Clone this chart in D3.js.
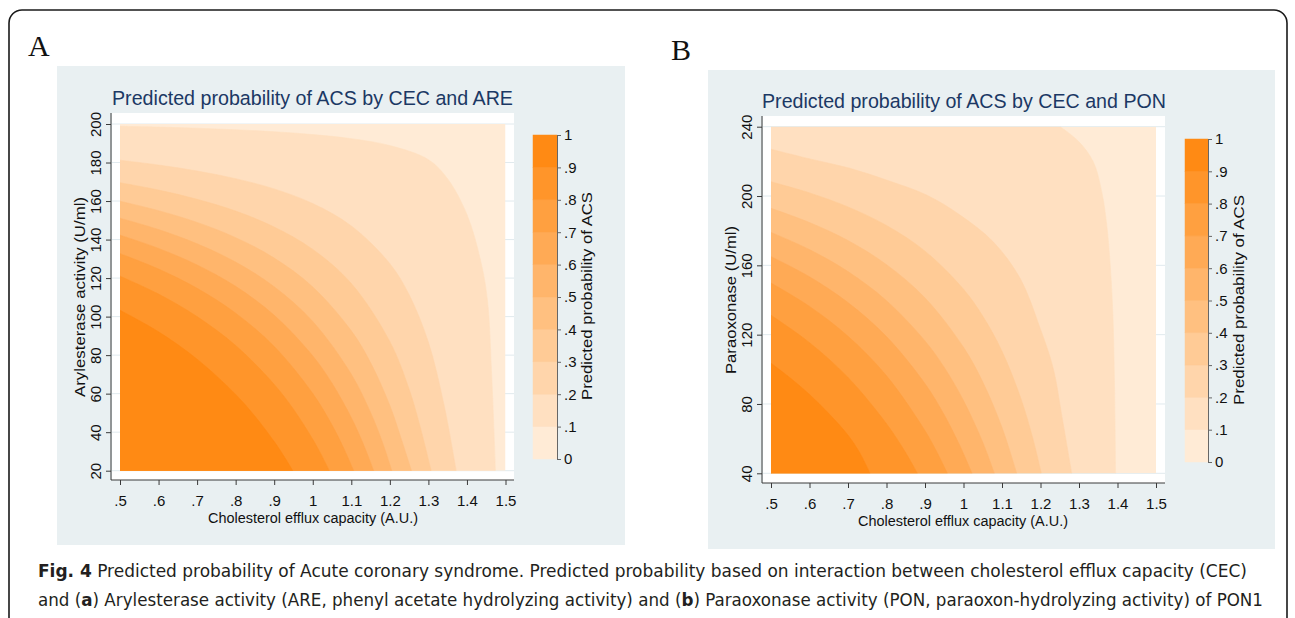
<!DOCTYPE html>
<html><head><meta charset="utf-8">
<script src="https://cdn.jsdelivr.net/npm/d3@7"></script>
<style>body{margin:0;background:#fff;} svg{display:block;}</style>
</head><body>
<svg id="c" width="1295" height="618"></svg>
<script>
// ---------------- DATA ----------------
const probLevels = [0.1,0.2,0.3,0.4,0.5,0.6,0.7,0.8,0.9];
const bandColors = ["#FFEBD6","#FFE0C1","#FFD5AB","#FFCB96","#FFC080","#FFB56B","#FFAA55","#FFA040","#FF952A","#FF8A14"];
const cecTicks = [0.5,0.6,0.7,0.8,0.9,1.0,1.1,1.2,1.3,1.4,1.5];
const cecTickLabels = [".5",".6",".7",".8",".9","1","1.1","1.2","1.3","1.4","1.5"];
const areTicks = [20,40,60,80,100,120,140,160,180,200];
const ponTicks = [40,80,120,160,200,240];
const probTicks = [0,0.1,0.2,0.3,0.4,0.5,0.6,0.7,0.8,0.9,1];
const probTickLabels = ["0",".1",".2",".3",".4",".5",".6",".7",".8",".9","1"];

// Panel A: contour boundaries (CEC, ARE) for probability levels .1 ... .9
const areContourCEC = [
  [0.5,0.6,0.7,0.8,0.9,1.0,1.1,1.2,1.3,1.35,1.4,1.435,1.453,1.464,1.474],
  [0.5,0.6,0.7,0.8,0.9,1.0,1.1,1.2,1.25,1.3,1.34,1.372],
  [0.5,0.6,0.7,0.8,0.9,1.0,1.1,1.2,1.25,1.28,1.307],
  [0.5,0.6,0.7,0.8,0.9,1.0,1.1,1.15,1.2,1.23,1.256],
  [0.5,0.6,0.7,0.8,0.9,1.0,1.1,1.15,1.18,1.205],
  [0.5,0.6,0.7,0.8,0.9,1.0,1.05,1.1,1.13,1.158],
  [0.5,0.6,0.7,0.8,0.9,1.0,1.05,1.08,1.106],
  [0.5,0.6,0.7,0.8,0.9,0.95,1.0,1.02,1.043],
  [0.5,0.6,0.7,0.8,0.85,0.9,0.925,0.948]
];
const areContourARE = [
  [198.8,198.4,197.8,197.0,196.0,194.5,192.4,188.8,181.5,171.5,153.0,129.4,108.6,70,20],
  [181.2,178.7,175.6,171.6,166.3,158.7,147.1,127.5,111.4,86.7,54.6,20],
  [169.5,165.7,160.9,154.8,146.5,134.9,117.2,87.0,62.3,41.7,20],
  [159.9,155.0,148.9,141.0,130.4,115.4,92.6,76.1,53.8,36.2,20],
  [151.1,145.2,137.8,128.3,115.5,97.5,70.1,50.2,35.2,20],
  [142.3,135.4,126.8,115.7,100.7,79.6,65.4,47.5,34.4,20],
  [132.7,124.7,114.7,101.8,84.5,60.1,43.7,31.8,20],
  [121.0,111.7,100.0,85.0,64.8,51.9,36.3,29.1,20],
  [103.3,92.1,77.9,59.6,48.3,35.1,27.6,20]
];

// Panel B: contour boundaries (CEC, PON) for probability levels .1 ... .9
const ponContourCEC = [
  [1.251,1.298,1.337,1.359,1.372,1.381,1.388,1.392,1.395],
  [0.5,0.601,0.705,0.8,0.904,0.991,1.077,1.147,1.199,1.233,1.255,1.281],
  [0.5,0.6,0.7,0.8,0.9,1.0,1.05,1.1,1.15,1.18,1.202],
  [0.5,0.6,0.7,0.8,0.9,1.0,1.05,1.1,1.138],
  [0.5,0.6,0.7,0.8,0.9,0.95,1.0,1.05,1.08],
  [0.5,0.6,0.7,0.8,0.9,0.95,0.99,1.022],
  [0.5,0.6,0.7,0.8,0.9,0.93,0.958],
  [0.5,0.6,0.7,0.8,0.85,0.88],
  [0.5,0.55,0.6,0.65,0.7,0.73,0.757]
];
const ponContourPON = [
  [240,231.7,219.8,202.5,183.3,160.2,131.3,92.9,40],
  [227,221.4,216,209.2,200.6,189,173.6,152.5,123.7,100.6,73.6,40],
  [208.2,201.8,193.7,183.0,168.2,146.2,130.7,110.4,82.5,60.1,40],
  [192.9,184.7,174.3,160.4,141.2,112.7,92.7,66.4,40],
  [179.0,169.1,156.4,139.6,116.4,101.1,82.0,57.9,40],
  [165.0,153.4,138.5,118.9,91.7,73.7,56.2,40],
  [149.8,136.3,119.1,96.3,64.6,52.6,40],
  [131.2,115.4,95.3,68.6,51.8,40],
  [103.5,95.0,85.5,74.5,62.0,52.0,40]
];

// ---------------- DRAWING ----------------
const svg = d3.select("#c");
const BG = "#e9f0f2";
const GRID = "#e1eaee";
const AXIS = "#3a3a3a";
const TITLE = "#1b3864";
const SANS = "'Liberation Sans', Arial, Helvetica, sans-serif";

svg.append("rect").attr("width",1295).attr("height",618).attr("fill","#fff");
// outer rounded frame
svg.append("rect").attr("x",9).attr("y",10).attr("width",1278).attr("height",660)
  .attr("rx",13).attr("fill","none").attr("stroke","#1a1a1a").attr("stroke-width",1.6);

function drawPanel(p) {
  const g = svg.append("g");
  g.append("text").attr("x",p.letter[0]).attr("y",p.letter[1])
    .attr("font-family","'Liberation Serif', 'Times New Roman', serif").attr("font-size",30)
    .attr("fill","#111").text(p.letterText);
  g.append("rect").attr("x",p.bg[0]).attr("y",p.bg[1]).attr("width",p.bg[2]-p.bg[0])
    .attr("height",p.bg[3]-p.bg[1]).attr("fill",BG);
  g.append("rect").attr("x",p.plot[0]).attr("y",p.plot[1]).attr("width",p.plot[2]-p.plot[0])
    .attr("height",p.plot[3]-p.plot[1]).attr("fill","#fff");

  const x = d3.scaleLinear().domain([0.5,1.5]).range(p.xr);
  const y = d3.scaleLinear().domain(p.yDomain).range(p.yr);
  const yMin = p.yDomain[0], yMax = p.yDomain[1];

  // gridlines
  g.selectAll("line.grid").data(p.yTicks).join("line")
    .attr("x1",p.plot[0]).attr("x2",p.plot[2])
    .attr("y1",d=>y(d)).attr("y2",d=>y(d))
    .attr("stroke",GRID).attr("stroke-width",1);

  const clipId = "clip"+p.letterText;
  g.append("clipPath").attr("id",clipId).append("rect")
    .attr("x",x(0.5)).attr("y",y(yMax)).attr("width",x(1.5)-x(0.5)).attr("height",y(yMin)-y(yMax));
  const fg = g.append("g").attr("clip-path","url(#"+clipId+")");
  fg.append("rect").attr("x",x(0.5)).attr("y",y(yMax)).attr("width",x(1.5)-x(0.5))
    .attr("height",y(yMin)-y(yMax)).attr("fill",bandColors[0]);
  const line = d3.line().curve(d3.curveCatmullRom.alpha(0.5));
  probLevels.forEach((lv,i)=>{
    const pts = p.cx[i].map((c,j)=>[x(c), y(p.cy[i][j])]);
    let d = line(pts) + "L" + x(0.5) + "," + y(yMin);
    if (p.cx[i][0] > 0.5) d += "L" + x(0.5) + "," + y(yMax);
    d += "Z";
    fg.append("path").attr("d",d).attr("fill",bandColors[i+1])
      .attr("stroke",bandColors[i+1]).attr("stroke-width",0.6);
  });

  // axis lines
  g.append("line").attr("x1",p.axX).attr("x2",p.axX).attr("y1",p.plot[1]).attr("y2",p.axY)
    .attr("stroke",AXIS).attr("stroke-width",1);
  g.append("line").attr("x1",p.axX).attr("x2",p.plot[2]).attr("y1",p.axY).attr("y2",p.axY)
    .attr("stroke",AXIS).attr("stroke-width",1);

  // x axis
  const xa = g.append("g").attr("transform","translate(0,"+p.axY+")")
    .call(d3.axisBottom(x).tickValues(cecTicks).tickFormat((d,i)=>cecTickLabels[i])
      .tickSize(5).tickSizeOuter(0).tickPadding(10));
  xa.select(".domain").remove();
  xa.selectAll("line").attr("stroke",AXIS);
  xa.selectAll("text").attr("font-family",SANS).attr("font-size",15).attr("fill","#111");

  // y axis
  const ya = g.append("g").attr("transform","translate("+p.axX+",0)")
    .call(d3.axisLeft(y).tickValues(p.yTicks).tickSize(5).tickSizeOuter(0));
  ya.select(".domain").remove();
  ya.selectAll("line").attr("stroke",AXIS);
  ya.selectAll("text").attr("font-family",SANS).attr("font-size",15).attr("fill","#111")
    .attr("transform","rotate(-90)").attr("x",0).attr("y",-10).attr("dy",0)
    .attr("text-anchor","middle");

  // title
  g.append("text").attr("x",p.title[0]).attr("y",p.title[1]).attr("font-family",SANS)
    .attr("font-size",20.5).attr("fill",TITLE).attr("textLength",p.title[2])
    .attr("lengthAdjust","spacingAndGlyphs").text(p.titleText);
  // x title
  g.append("text").attr("x",p.xTitle[0]).attr("y",p.xTitle[1]).attr("font-family",SANS)
    .attr("font-size",15.5).attr("fill","#111").attr("text-anchor","middle")
    .attr("textLength",p.xTitle[2]).attr("lengthAdjust","spacingAndGlyphs")
    .text("Cholesterol efflux capacity (A.U.)");
  // y title
  g.append("text").attr("transform","translate("+p.yTitle[0]+","+p.yTitle[1]+") rotate(-90)")
    .attr("font-family",SANS).attr("font-size",14.5).attr("fill","#111").attr("text-anchor","middle")
    .attr("textLength",p.yTitle[2]).attr("lengthAdjust","spacingAndGlyphs").text(p.yTitleText);

  // colorbar
  const cb = d3.scaleLinear().domain([0,1]).range([p.cb[3],p.cb[1]]);
  g.selectAll("rect.band").data(d3.range(10)).join("rect")
    .attr("x",p.cb[0]).attr("width",p.cb[2]-p.cb[0])
    .attr("y",i=>cb(probTicks[i+1])).attr("height",i=>cb(probTicks[i])-cb(probTicks[i+1]))
    .attr("fill",i=>bandColors[i]).attr("stroke",i=>bandColors[i]).attr("stroke-width",0.5);
  const ca = g.append("g").attr("transform","translate("+p.cb[2]+",0)")
    .call(d3.axisRight(cb).tickValues(probTicks).tickFormat((d,i)=>probTickLabels[i])
      .tickSize(4).tickSizeOuter(0).tickPadding(3));
  ca.select(".domain").attr("stroke","#666");
  ca.selectAll("line").attr("stroke","#666");
  ca.selectAll("text").attr("font-family",SANS).attr("font-size",15).attr("fill","#111");
  g.append("text").attr("transform","translate("+p.cbTitle[0]+","+p.cbTitle[1]+") rotate(-90)")
    .attr("font-family",SANS).attr("font-size",14.5).attr("fill","#111").attr("text-anchor","middle")
    .attr("textLength",p.cbTitle[2]).attr("lengthAdjust","spacingAndGlyphs")
    .text("Predicted probability of ACS");
}

drawPanel({
  letterText:"A", letter:[28,56],
  bg:[57,66,625,545], plot:[112,113,514,480], axX:111, axY:480,
  xr:[120,505.5], yDomain:[20,200], yr:[470.7,124], yTicks:areTicks,
  cx:areContourCEC, cy:areContourARE,
  title:[112,105,401], titleText:"Predicted probability of ACS by CEC and ARE",
  xTitle:[313,523,210], yTitle:[85,297,200], yTitleText:"Arylesterase activity (U/ml)",
  cb:[533,135,557,459], cbTitle:[592,296,208]
});
drawPanel({
  letterText:"B", letter:[671,60],
  bg:[708,70,1275,549], plot:[763,116,1165,483], axX:762, axY:483,
  xr:[771,1156], yDomain:[40,240], yr:[473.3,126.7], yTicks:ponTicks,
  cx:ponContourCEC, cy:ponContourPON,
  title:[762,108,404], titleText:"Predicted probability of ACS by CEC and PON",
  xTitle:[963,526,210], yTitle:[736,300,148], yTitleText:"Paraoxonase (U/ml)",
  cb:[1185,139,1208,462], cbTitle:[1244,300,210]
});

// caption
const CAP = "'Liberation Sans Narrow', 'DejaVu Sans Condensed', 'Open Sans', sans-serif";
const c1 = svg.append("text").attr("x",38).attr("y",577).attr("font-family",CAP).attr("font-size",18.5)
  .attr("fill","#231f20").attr("textLength",1209).attr("lengthAdjust","spacingAndGlyphs");
c1.append("tspan").attr("font-weight","bold").text("Fig. 4");
c1.append("tspan").text(" Predicted probability of Acute coronary syndrome. Predicted probability based on interaction between cholesterol efflux capacity (CEC)");
const c2 = svg.append("text").attr("x",38).attr("y",606).attr("font-family",CAP).attr("font-size",18.5)
  .attr("fill","#231f20").attr("textLength",1225).attr("lengthAdjust","spacingAndGlyphs");
c2.append("tspan").text("and (");
c2.append("tspan").attr("font-weight","bold").text("a");
c2.append("tspan").text(") Arylesterase activity (ARE, phenyl acetate hydrolyzing activity) and (");
c2.append("tspan").attr("font-weight","bold").text("b");
c2.append("tspan").text(") Paraoxonase activity (PON, paraoxon-hydrolyzing activity) of PON1");
</script>
</body></html>
